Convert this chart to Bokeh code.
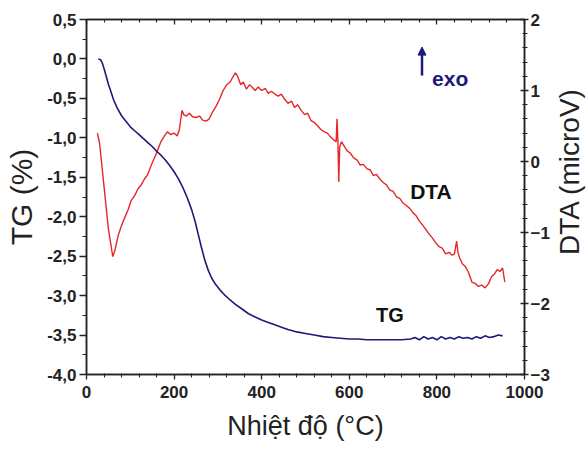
import math
from bokeh.plotting import figure
from bokeh.layouts import row
from bokeh.models import (LinearAxis, Range1d, FixedTicker, CustomJSTickFormatter,
                          Label, Arrow, NormalHead)
from bokeh.embed import file_html
from bokeh.resources import INLINE

# ---------------- data ----------------
tg_temp = [27, 32, 36, 40, 45, 50, 56, 62, 70, 80, 90, 100, 110, 120, 130, 140, 150,
           160, 170, 180, 190, 200, 210, 220, 230, 240, 248, 255, 262, 270, 278, 286,
           295, 305, 315, 325, 340, 355, 370, 385, 400, 415, 430, 445, 460, 480, 500,
           520, 540, 560, 580, 600, 620, 640, 660, 680, 700, 720, 740, 750, 760, 770,
           780, 790, 800, 810, 820, 830, 840, 850, 860, 870, 880, 890, 900, 910, 920,
           930, 940, 950]
tg_value = [0.00, -0.01, -0.05, -0.12, -0.22, -0.32, -0.42, -0.52, -0.62, -0.72, -0.79,
            -0.86, -0.91, -0.96, -1.01, -1.06, -1.11, -1.17, -1.22, -1.28, -1.35, -1.43,
            -1.52, -1.63, -1.76, -1.91, -2.06, -2.22, -2.38, -2.55, -2.68, -2.78, -2.86,
            -2.93, -2.99, -3.04, -3.11, -3.17, -3.23, -3.27, -3.31, -3.34, -3.37, -3.40,
            -3.43, -3.46, -3.48, -3.50, -3.52, -3.53, -3.54, -3.55, -3.55, -3.56, -3.56,
            -3.56, -3.56, -3.56, -3.55, -3.53, -3.56, -3.52, -3.55, -3.53, -3.56, -3.52,
            -3.55, -3.53, -3.55, -3.52, -3.54, -3.53, -3.55, -3.52, -3.54, -3.51, -3.53,
            -3.52, -3.50, -3.51]

dta_temp = [25, 30, 40, 50, 60, 65, 72, 80, 88, 95, 102, 110, 118, 125, 132, 140, 148,
            155, 162, 170, 178, 185, 192, 200, 207, 212, 218, 222, 228, 235, 242, 250,
            258, 266, 274, 280, 288, 296, 304, 312, 320, 328, 335, 340, 345, 352, 358,
            365, 372, 378, 385, 392, 400, 408, 415, 422, 430, 438, 445, 452, 460, 468,
            475, 482, 490, 498, 505, 512, 520, 528, 535, 542, 550, 558, 565, 570, 572,
            574, 576, 578, 582, 588, 595, 602, 610, 618, 625, 632, 640, 648, 655, 662,
            670, 678, 685, 692, 700, 708, 715, 722, 730, 738, 745, 752, 760, 768, 775,
            782, 790, 798, 805, 812, 820, 828, 835, 840, 845, 848, 852, 858, 865, 872,
            880, 888, 895, 902, 910, 918, 925, 932, 938, 944, 950, 955]
dta_value = [0.40, 0.25, -0.35, -0.95, -1.34, -1.25, -1.05, -0.90, -0.78, -0.68, -0.55,
             -0.48, -0.38, -0.33, -0.25, -0.18, -0.05, 0.05, 0.15, 0.28, 0.36, 0.42, 0.38,
             0.40, 0.36, 0.45, 0.72, 0.66, 0.64, 0.68, 0.63, 0.62, 0.64, 0.58, 0.57, 0.60,
             0.70, 0.78, 0.88, 1.00, 1.08, 1.12, 1.20, 1.25, 1.20, 1.08, 1.12, 1.02, 1.08,
             1.05, 1.00, 1.05, 1.00, 1.03, 0.96, 0.99, 0.95, 0.92, 0.95, 0.88, 0.82, 0.85,
             0.76, 0.80, 0.72, 0.66, 0.68, 0.58, 0.55, 0.50, 0.45, 0.42, 0.40, 0.34, 0.30,
             0.28, 0.60, 0.28, -0.29, 0.20, 0.28, 0.22, 0.15, 0.12, 0.05, 0.02, -0.05,
             -0.04, -0.10, -0.12, -0.20, -0.18, -0.25, -0.30, -0.33, -0.40, -0.42, -0.50,
             -0.52, -0.58, -0.62, -0.66, -0.72, -0.76, -0.84, -0.90, -0.96, -1.02, -1.08,
             -1.15, -1.20, -1.22, -1.30, -1.28, -1.32, -1.30, -1.12, -1.28, -1.36, -1.44,
             -1.48, -1.56, -1.70, -1.72, -1.76, -1.74, -1.78, -1.72, -1.62, -1.58, -1.52,
             -1.55, -1.50, -1.70]

x_ticks = [0, 200, 400, 600, 800, 1000]
tg_ticks = [-4.0, -3.5, -3.0, -2.5, -2.0, -1.5, -1.0, -0.5, 0.0, 0.5]
dta_ticks = [-3, -2, -1, 0, 1, 2]

x_label = "Nhiệt độ (°C)"
tg_label = "TG (%)"
dta_label = "DTA (microV)"

RED = "#e5262b"
NAVY = "#1b1b7a"
FONT = "Liberation Sans"

# ---------------- main figure ----------------
p = figure(width=552, height=449, output_backend="svg", toolbar_location=None,
           x_range=Range1d(0, 1000), y_range=Range1d(-4.0, 0.5),
           min_border_left=86, min_border_right=21, min_border_top=19,
           min_border_bottom=75)
p.xaxis.visible = False
p.yaxis.visible = False
p.xgrid.visible = False
p.ygrid.visible = False
p.outline_line_color = "#222222"
p.outline_line_width = 1.5
p.background_fill_color = "white"
p.border_fill_color = "white"
p.extra_y_ranges = {"dta": Range1d(-3, 2)}

x_minor = [v for v in range(0, 1001, 40) if v % 200 != 0]
tg_minor = [-4.0 + 0.25 * i for i in range(19) if i % 2 == 1]
dta_minor = [round(-3 + 0.2 * i, 2) for i in range(26) if i % 5 != 0]


def style(ax, lab_size="17px", title_size="27px"):
    ax.axis_line_color = "#222222"
    ax.axis_line_width = 1.5
    ax.major_tick_line_color = "#222222"
    ax.minor_tick_line_color = "#222222"
    ax.major_tick_line_width = 1.3
    ax.minor_tick_line_width = 1.1
    ax.major_label_text_font = FONT
    ax.major_label_text_font_style = "bold"
    ax.major_label_text_font_size = lab_size
    ax.major_label_text_color = "#222222"
    ax.axis_label_text_font = FONT
    ax.axis_label_text_font_style = "normal"
    ax.axis_label_text_font_size = title_size
    ax.axis_label_text_color = "#222222"


# bottom axis
xb = LinearAxis(ticker=FixedTicker(ticks=x_ticks, minor_ticks=x_minor), axis_label=x_label)
style(xb)
xb.major_tick_out = 5
xb.major_tick_in = 0
xb.minor_tick_out = 3
xb.minor_tick_in = 1
xb.major_label_standoff = 6
xb.axis_label_standoff = 10
p.add_layout(xb, "below")

# top axis (ticks only)
xt = LinearAxis(ticker=FixedTicker(ticks=x_ticks, minor_ticks=x_minor),
                formatter=CustomJSTickFormatter(code="return ''"))
style(xt)
xt.major_tick_out = 0
xt.major_tick_in = 5
xt.minor_tick_out = 0
xt.minor_tick_in = 3
xt.major_label_standoff = 0
p.add_layout(xt, "above")

# left axis TG
yl = LinearAxis(ticker=FixedTicker(ticks=tg_ticks, minor_ticks=tg_minor),
                formatter=CustomJSTickFormatter(code="return tick.toFixed(1).replace('.', ',')"),
                axis_label=tg_label)
style(yl, title_size="30px")
yl.major_tick_out = 7
yl.major_tick_in = 0
yl.minor_tick_out = 4
yl.minor_tick_in = 0
yl.major_label_standoff = 3
yl.axis_label_standoff = 6
p.add_layout(yl, "left")

# right axis DTA (numbers only; its title sits in the narrow panel beside)
yr = LinearAxis(y_range_name="dta",
                ticker=FixedTicker(ticks=dta_ticks, minor_ticks=dta_minor))
style(yr)
yr.major_tick_out = 4
yr.major_tick_in = 4
yr.minor_tick_out = 3
yr.minor_tick_in = 2
yr.major_label_standoff = 2
p.add_layout(yr, "right")

# curves
p.line(dta_temp, dta_value, y_range_name="dta", line_color=RED, line_width=1.4)
p.line(tg_temp, tg_value, line_color=NAVY, line_width=1.6)

# annotations
p.add_layout(Label(x=739, y=-1.68, text="DTA", text_font=FONT, text_font_style="bold",
                   text_font_size="21px", text_color="#111111", text_baseline="alphabetic"))
p.add_layout(Label(x=661, y=-3.25, text="TG", text_font=FONT, text_font_style="bold",
                   text_font_size="20px", text_color="#111111", text_baseline="alphabetic"))
p.add_layout(Label(x=789, y=-0.25, text="exo", text_font=FONT, text_font_style="bold",
                   text_font_size="21px", text_color=NAVY, text_baseline="alphabetic"))
p.add_layout(Arrow(end=NormalHead(size=8, fill_color=NAVY, line_color=NAVY),
                   x_start=766, y_start=-0.21, x_end=766, y_end=0.15,
                   line_color=NAVY, line_width=2.5))

# ---------------- narrow panel holding the right axis title ----------------
t = figure(width=35, height=449, output_backend="svg", toolbar_location=None,
           x_range=Range1d(0, 35), y_range=Range1d(0, 449),
           x_axis_location=None, y_axis_location=None,
           min_border_left=0, min_border_right=0, min_border_top=0, min_border_bottom=0)
t.xgrid.visible = False
t.ygrid.visible = False
t.outline_line_color = None
t.background_fill_color = "white"
t.border_fill_color = "white"
t.add_layout(Label(x=17, y=257, text=dta_label, angle=math.pi / 2,
                   text_align="center", text_baseline="middle",
                   text_font=FONT, text_font_size="28px", text_color="#222222"))

layout = row(p, t)
open("out.html", "w").write(file_html(layout, INLINE))
